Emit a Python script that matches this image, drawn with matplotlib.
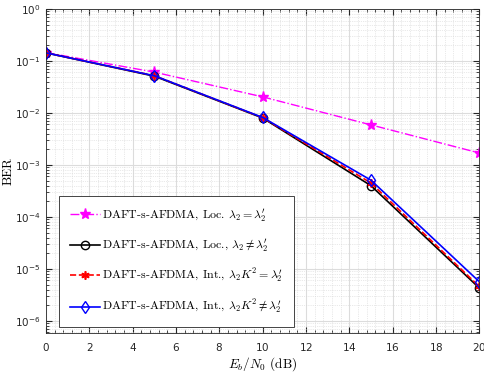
import matplotlib
matplotlib.use("Agg")
import matplotlib.pyplot as plt
from matplotlib.font_manager import FontProperties
from matplotlib.ticker import LogLocator, MultipleLocator

snr = [0, 5, 10, 15, 20]
ber_loc_eq = [0.145, 0.061, 0.0204, 0.0059, 0.0017]
ber_loc_neq = [0.143, 0.051, 0.0080, 4.0e-4, 4.3e-6]
ber_int_eq = [0.143, 0.052, 0.0081, 4.5e-4, 4.6e-6]
ber_int_neq = [0.143, 0.052, 0.0082, 5.1e-4, 5.7e-6]

labels = [
    r"DAFT-s-AFDMA, Loc. $\lambda_2 = \lambda_2'$",
    r"DAFT-s-AFDMA, Loc., $\lambda_2 \neq \lambda_2'$",
    r"DAFT-s-AFDMA, Int., $\lambda_2 K^2 = \lambda_2'$",
    r"DAFT-s-AFDMA, Int., $\lambda_2 K^2 \neq \lambda_2'$",
]

serif = FontProperties(family="cmr10", size=8.6, math_fontfamily="cm")
label_font = FontProperties(family="cmr10", size=9.5, math_fontfamily="cm")
plt.rcParams["axes.formatter.use_mathtext"] = True

f, ax = plt.subplots(figsize=(4.85, 3.74), dpi=100)
f.subplots_adjust(left=0.095, right=0.988, top=0.976, bottom=0.11)

ax.semilogy(snr, ber_loc_eq, "-.", color="magenta", marker="*", ms=8,
            lw=1, label=labels[0])
ax.semilogy(snr, ber_loc_neq, "-", color="black", marker="o", ms=6,
            mfc="none", lw=1.2, label=labels[1])
ax.semilogy(snr, ber_int_eq, "--", color="red", marker=(6, 2, 0), ms=6,
            mew=1.2, lw=1.2, label=labels[2])
ax.semilogy(snr, ber_int_neq, "-", color="blue", marker="d", ms=6,
            mfc="none", lw=1.2, label=labels[3])

ax.set_xlim(0, 20)
ax.set_ylim(10 ** -6.23, 1)
ax.xaxis.set_major_locator(MultipleLocator(2))
ax.xaxis.set_minor_locator(MultipleLocator(0.4))
ax.yaxis.set_major_locator(LogLocator(base=10, numticks=10))
ax.yaxis.set_minor_locator(LogLocator(base=10, subs=range(2, 10), numticks=20))

ax.grid(True, which="major", color="#dcdcdc", lw=0.8, ls="-")
ax.grid(True, which="minor", color="#d4d4d4", lw=0.5, ls=":")
ax.set_axisbelow(True)
ax.tick_params(which="both", direction="in", top=True, right=True,
               labelsize=7.5, colors="#262626")
ax.tick_params(axis="x", pad=6)
ax.tick_params(axis="y", pad=4)
ax.tick_params(which="major", length=4)
ax.tick_params(which="minor", length=2)
for s in ax.spines.values():
    s.set_color("#262626")
    s.set_linewidth(0.6)

ax.set_xlabel(r"$E_b/N_0$ (dB)", fontproperties=label_font)
ax.set_ylabel("BER", fontproperties=label_font)
ax.xaxis.set_label_coords(0.5, -0.068)
ax.yaxis.set_label_coords(-0.073, 0.5)

leg = ax.legend(loc="lower left", bbox_to_anchor=(0.03, 0.018), prop=serif,
                fancybox=False, edgecolor="#262626", framealpha=1,
                labelspacing=1.1, handlelength=2.5, handletextpad=0.2,
                borderpad=0.9, borderaxespad=0)
leg.get_frame().set_linewidth(0.6)

plt.savefig("out.png", dpi=100)
plt.close()
